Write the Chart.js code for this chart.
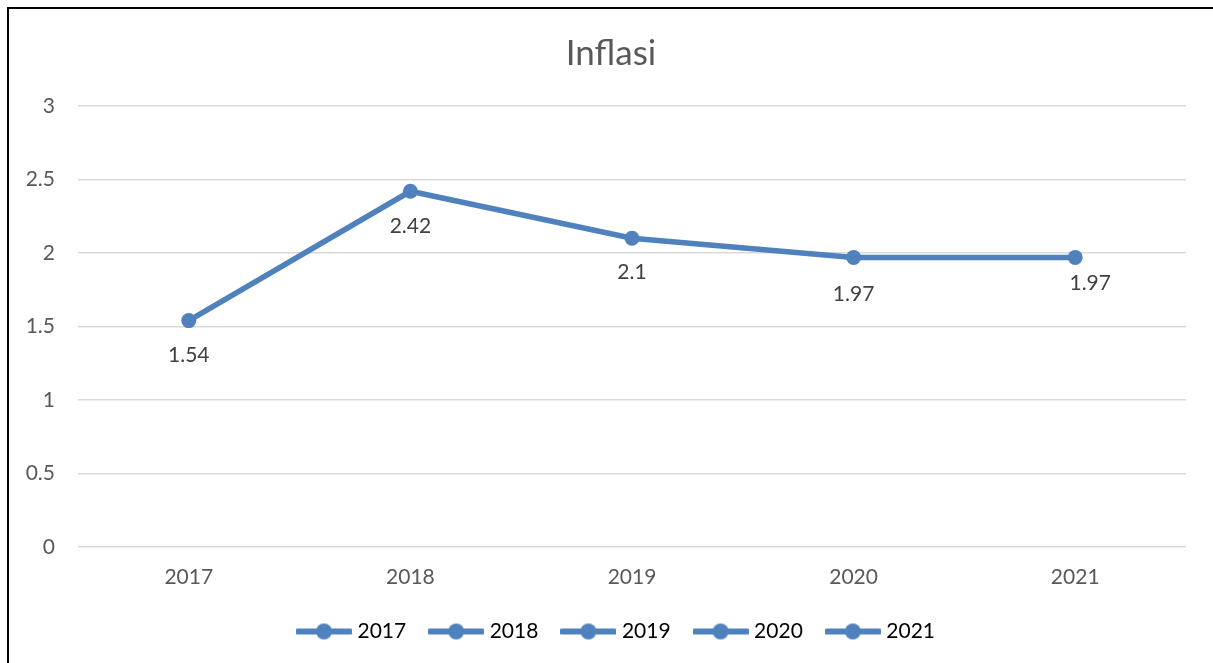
<!DOCTYPE html>
<html>
<head>
<meta charset="utf-8">
<title>Inflasi</title>
<script src="https://cdn.jsdelivr.net/npm/chart.js@4"></script>
<style>
    html, body { margin: 0; padding: 0; background: #fff; }
    .chart-container { position: relative; width: 1213px; height: 663px; }
    .frame { position: absolute; left: 7px; top: 7px; width: 1220px; height: 670px; border: 2px solid #000; box-sizing: border-box; pointer-events: none; }
</style>
</head>
<body>
<div class="chart-container">
    <canvas id="inflasiChart" width="1213" height="663"></canvas>
    <div class="frame"></div>
</div>
<script>
const years = ['2017', '2018', '2019', '2020', '2021'];
const inflasi = [1.54, 2.42, 2.1, 1.97, 1.97];
const yTicks = [0, 0.5, 1, 1.5, 2, 2.5, 3];

const blue = 'rgb(79, 129, 189)';
const fontFamily = 'Lato, "Open Sans", sans-serif';

// legend symbol: line with a dot, like Excel
function legendSymbol() {
    const c = document.createElement('canvas');
    c.width = 56;
    c.height = 18;
    const ctx = c.getContext('2d');
    ctx.strokeStyle = blue;
    ctx.lineWidth = 6;
    ctx.lineCap = 'round';
    ctx.beginPath();
    ctx.moveTo(2, 9);
    ctx.lineTo(54, 9);
    ctx.stroke();
    ctx.fillStyle = blue;
    ctx.beginPath();
    ctx.arc(28, 9, 8, 0, Math.PI * 2);
    ctx.fill();
    return c;
}
const symbol = legendSymbol();

// data labels drawn under each point
const pointLabels = {
    id: 'pointLabels',
    afterDatasetsDraw(chart, args, opts) {
        const ctx = chart.ctx;
        const meta = chart.getDatasetMeta(0);
        ctx.save();
        ctx.font = '21px ' + fontFamily;
        ctx.fillStyle = '#404040';
        ctx.textAlign = 'center';
        ctx.textBaseline = 'middle';
        meta.data.forEach((pt, i) => {
            const off = opts.offsets[i] || [0, 35];
            ctx.fillText(String(chart.data.datasets[0].data[i]), pt.x + off[0], pt.y + off[1]);
        });
        ctx.restore();
    }
};

// title and legend are centred on the whole frame, not on the padded area
const recentre = {
    id: 'recentre',
    afterLayout(chart) {
        if (chart.titleBlock) { chart.titleBlock.left += 18; chart.titleBlock.right += 18; }
        if (chart.legend) { chart.legend.left += 25; chart.legend.right += 25; }
    }
};

new Chart('inflasiChart', {
    type: 'line',
    data: {
        labels: years,
        datasets: [{
            label: 'Inflasi',
            data: inflasi,
            borderColor: blue,
            backgroundColor: blue,
            borderWidth: 5.5,
            pointRadius: 7.5,
            pointHoverRadius: 7.5,
            pointBorderWidth: 0,
            tension: 0
        }]
    },
    options: {
        responsive: false,
        animation: false,
        layout: { padding: { left: 0, right: 27, top: 0, bottom: 11 } },
        plugins: {
            tooltip: { enabled: false },
            pointLabels: {
                offsets: [[0, 35], [0, 35], [0, 34], [0, 37], [15, 26]]
            },
            title: {
                display: true,
                text: 'Inflasi',
                color: '#595959',
                font: { family: fontFamily, size: 35, weight: 'normal' },
                padding: { top: 33, bottom: 31 }
            },
            legend: {
                position: 'bottom',
                labels: {
                    usePointStyle: true,
                    pointStyleWidth: 46,
                    color: '#595959',
                    font: { family: fontFamily, size: 21 },
                    padding: 27,
                    generateLabels: () => years.map(y => ({
                        text: y,
                        pointStyle: symbol,
                        fillStyle: blue,
                        strokeStyle: blue,
                        lineWidth: 0,
                        hidden: false,
                        datasetIndex: 0
                    }))
                }
            }
        },
        scales: {
            x: {
                offset: true,
                grid: { display: false, drawTicks: false },
                border: { display: false },
                ticks: {
                    color: '#595959',
                    font: { family: fontFamily, size: 21 },
                    padding: 18
                },
                afterFit: s => { s.height = 47; }
            },
            y: {
                min: 0,
                max: 3,
                afterBuildTicks: s => { s.ticks = yTicks.map(v => ({ value: v })); },
                grid: { color: '#d9d9d9', lineWidth: 1.5, drawTicks: false },
                border: { display: false },
                ticks: {
                    color: '#595959',
                    font: { family: fontFamily, size: 21 },
                    padding: 23,
                    callback: v => String(v)
                },
                afterFit: s => { s.width = 78; }
            }
        }
    },
    plugins: [pointLabels, recentre]
});
</script>
</body>
</html>
